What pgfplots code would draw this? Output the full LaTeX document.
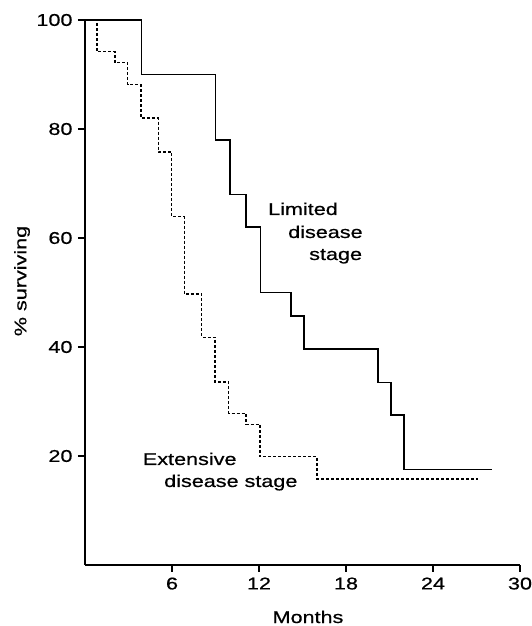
\documentclass[border=0pt]{standalone}
\usepackage{fontspec}
\setmainfont{Liberation Sans}[FakeStretch=1.27, FakeBold=0.6]
\usepackage{pgfplots}
\pgfplotsset{compat=1.18}

\newcommand{\lab}{\fontsize{17}{20}\selectfont}

\begin{document}
\begin{tikzpicture}
% frame of the page, same size as the reference
\useasboundingbox (-85pt,-61pt) rectangle (446pt,565pt);
\begin{axis}[
    at={(0,0)}, anchor=south west,
    scale only axis, width=435pt, height=545pt,
    xmin=0, xmax=30, ymin=0, ymax=100,
    axis x line*=bottom, axis y line*=left,
    axis line style={line width=1.2pt},
    xtick={6,12,18,24,30}, ytick={20,40,60,80,100},
    tick align=outside, major tick length=7pt,
    tick style={line width=1.2pt, black},
    /pgf/number format/assume math mode=true,
    ticklabel style={font=\lab},
    xticklabel style={yshift=-2pt},
    yticklabel style={xshift=-2pt},
    clip=false,
]
% limited disease stage
\addplot[const plot, line width=1.6pt] coordinates {
    (0,100) (3.9,90) (9,78) (10,68) (11.1,62) (12.1,50) (14.2,45.7)
    (15.1,39.6) (20.2,33.5) (21.1,27.5) (22,17.5) (28.1,17.5)
};
% extensive disease stage
\addplot[const plot, line width=1.3pt, dash pattern=on 3pt off 2pt] coordinates {
    (0,100) (0.83,94.2) (2.07,92.2) (2.94,88.1) (3.86,82) (5.06,75.8)
    (5.98,63.9) (6.85,49.7) (8.05,41.8) (8.97,33.6) (9.9,27.8) (11.1,25.8)
    (12.07,19.9) (16,15.8) (27.1,15.8)
};
\end{axis}
\node[font=\lab, anchor=base, inner sep=0] at (223pt,-58pt) {Months};
\node[font=\lab, rotate=90, anchor=center, inner sep=0] at (-63pt,284pt) {\% surviving};
\node[font=\lab, anchor=base west, inner sep=0] at (183pt,350pt) {Limited};
\node[font=\lab, anchor=base west, inner sep=0] at (203pt,327pt) {disease};
\node[font=\lab, anchor=base west, inner sep=0] at (224pt,305pt) {stage};
\node[font=\lab, anchor=base west, inner sep=0] at (57.7pt,100pt) {Extensive};
\node[font=\lab, anchor=base west, inner sep=0] at (79pt,78pt) {disease stage};
\end{tikzpicture}
\end{document}
